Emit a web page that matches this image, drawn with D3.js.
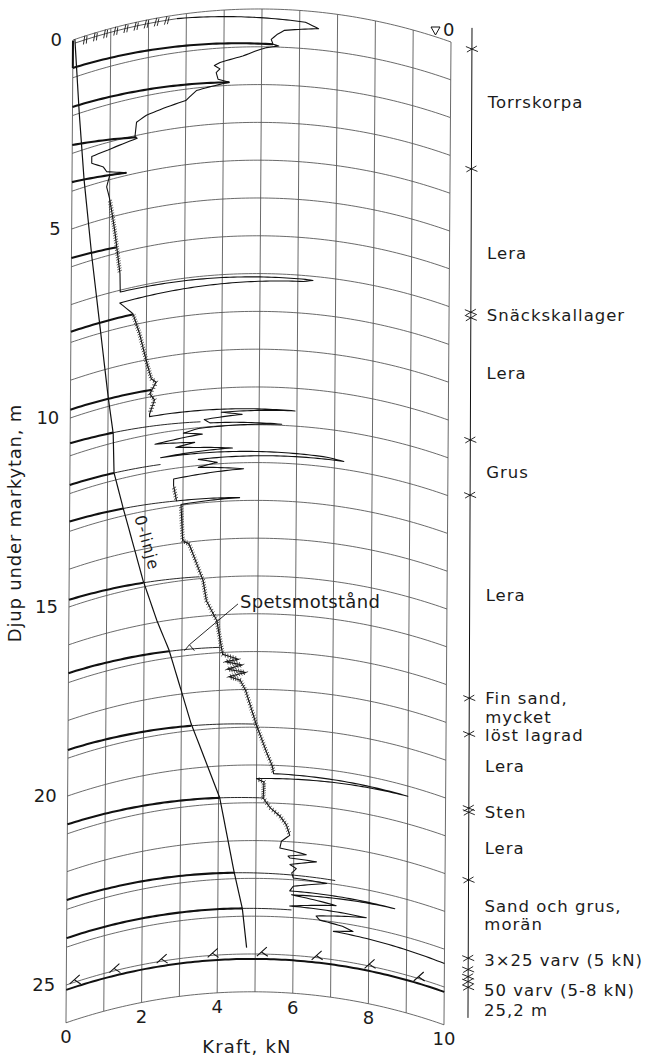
<!DOCTYPE html>
<html>
<head>
<meta charset="utf-8">
<script src="https://cdnjs.cloudflare.com/ajax/libs/d3/7.8.5/d3.min.js"></script>
<style>
body { margin: 0; background: #fff; }
svg text { font-family: "DejaVu Sans", sans-serif; fill: #1b1b1b; }
</style>
</head>
<body>
<svg id="chart" width="645" height="1060"></svg>
<script>
// values: [depth m, force kN]
const depthTicks = [0, 5, 10, 15, 20, 25];
const forceTicks = [0, 2, 4, 6, 8, 10];

const spets = [
  [0.10, 2.75], [0.30, 6.15], [0.44, 6.50], [0.55, 5.60], [0.67, 5.40], [0.80, 5.25],
  [0.93, 5.30], [0.97, 5.45], [1.02, 5.13], [1.09, 4.90], [1.24, 4.50], [1.38, 3.90],
  [1.45, 3.75], [1.55, 3.90], [1.64, 3.80], [1.82, 3.85], [1.92, 4.15], [2.01, 3.60],
  [2.07, 3.28], [2.30, 3.00], [2.40, 2.50], [2.52, 1.96], [2.65, 1.70], [3.03, 1.66],
  [3.08, 1.72], [3.20, 0.95], [3.25, 0.52], [3.43, 0.52], [3.62, 0.83], [3.77, 0.92],
  [3.93, 1.44], [3.88, 1.00], [4.17, 0.92], [4.50, 1.00], [4.92, 1.07], [5.37, 1.14],
  [5.84, 1.20], [6.56, 1.29], [7.05, 1.30], [7.10, 6.20], [7.11, 6.40], [7.16, 6.15],
  [7.34, 1.29], [7.70, 1.64], [8.27, 1.82], [9.01, 2.00], [9.53, 2.14], [9.64, 2.27],
  [9.92, 2.10], [10.10, 2.23], [10.45, 2.10], [10.52, 2.10],
  [10.60, 5.95], [10.64, 4.00], [10.72, 4.55], [10.80, 3.55], [10.90, 3.70], [10.97, 5.60],
  [11.02, 3.40], [11.10, 3.00], [11.18, 3.50], [11.28, 2.25], [11.38, 3.30], [11.45, 2.80],
  [11.52, 3.35], [11.60, 4.30], [11.66, 2.40], [11.74, 6.80], [11.79, 7.25], [11.84, 3.40],
  [11.96, 3.90], [12.05, 3.40], [12.16, 4.60], [12.28, 2.75], [12.45, 2.75],
  [12.87, 2.83], [12.92, 4.50], [12.98, 2.95], [13.94, 3.00], [14.05, 3.17], [15.06, 3.55],
  [15.60, 3.64], [16.15, 3.92], [16.60, 4.00], [17.05, 4.08], [17.20, 4.50], [17.25, 4.15],
  [17.35, 4.60], [17.45, 4.20], [17.55, 4.70], [17.65, 4.25], [17.75, 4.55], [18.04, 4.70],
  [18.92, 4.98], [19.63, 5.25], [20.03, 5.42], [20.22, 5.45], [20.27, 9.00], [20.36, 5.00],
  [20.45, 5.20], [20.87, 5.18], [21.13, 5.37], [21.34, 5.63], [21.56, 5.80], [21.83, 5.89],
  [22.00, 5.67], [22.18, 5.63], [22.24, 5.99], [22.31, 6.33], [22.38, 5.85], [22.43, 5.90],
  [22.47, 6.60], [22.60, 5.90], [22.70, 6.07], [22.82, 5.95], [22.95, 5.99], [23.01, 6.88],
  [23.17, 5.99], [23.30, 5.90], [23.33, 8.68], [23.40, 5.95], [23.56, 7.13], [23.70, 5.90],
  [23.74, 7.93], [23.90, 6.60], [24.00, 6.70], [24.08, 7.30], [24.17, 7.58], [24.25, 7.06],
  [24.38, 10.0]
];

const nollLinje = [
  [0.00, 0.05], [2.00, 0.18], [3.80, 0.32], [5.90, 0.54], [9.75, 1.00], [10.75, 1.14],
  [11.80, 1.17], [12.80, 1.42], [14.83, 1.96], [15.95, 2.33], [16.79, 2.66], [18.82, 3.26],
  [20.84, 4.03], [22.80, 4.42], [23.80, 4.65], [24.83, 4.77]
];

// pen returns: [depth at 0 kN, depth at end, bold up to kN, end kN]
const retur = [
  [0.74, 0.93, 5.30, 5.30], [1.77, 1.92, 4.15, 4.15], [2.78, 3.05, 1.70, 1.70],
  [3.76, 3.93, 1.44, 1.44], [5.77, 5.84, 1.20, 1.20], [7.72, 7.72, 1.64, 1.64],
  [9.78, 9.82, 2.15, 2.15], [10.67, 10.85, 1.14, 3.45], [11.77, 11.84, 1.17, 2.40],
  [12.74, 12.87, 1.42, 2.83], [14.81, 14.95, 1.96, 3.45], [16.75, 16.86, 2.66, 4.00],
  [18.78, 18.92, 3.26, 4.98], [20.75, 20.87, 4.03, 5.18], [22.75, 22.90, 4.45, 7.10],
  [23.76, 23.80, 4.65, 5.95]
];

const varvDepth = 25.13;
const varvMarks = [0.25, 1.3, 2.55, 3.9, 5.2, 6.65, 8.05, 9.35];
const noisyZones = [[4.2, 6.95], [7.4, 10.45], [12.45, 21.9]];

const lagerGrans = [0.24, 3.41, 7.20, 7.35, 10.58, 12.04, 17.41, 18.36, 20.32, 20.43,
  22.22, 24.29, 24.59, 24.78, 24.91, 25.06];
const lagerText = [
  [1.64, "Torrskorpa"], [5.64, "Lera"], [7.28, "Snäckskallager"], [8.81, "Lera"],
  [11.43, "Grus"], [14.68, "Lera"], [17.40, "Fin sand,"], [17.90, "mycket"],
  [18.40, "löst lagrad"], [19.20, "Lera"], [20.42, "Sten"], [21.38, "Lera"],
  [22.90, "Sand och grus,"], [23.40, "morän"], [24.34, "3×25 varv (5 kN)"],
  [25.14, "50 varv (5-8 kN)"], [25.66, "25,2 m"]
];

const svg = d3.select("#chart");

const x = d3.scaleLinear().domain([0, 10]).range([73, 451]);
const y = d3.scaleLinear().domain([0, 26]).range([40, 40 + 26 * 37.8]);

// pen arm swings on a circle: grid "horizontals" are arcs
const R = 574, half = (x(10) - x(0)) / 2;
const base = Math.sqrt(R * R - half * half);
const bump = f => Math.sqrt(R * R - Math.pow(x(f) - x(5), 2)) - base;
const P = (f, d) => [x(f) - d * 0.27, y(d) - bump(f) + f * 0.2];

// project [depth, force] polyline, resampled so arcs stay curved
function proj(pts, step = 0.1) {
  const out = [];
  pts.forEach((b, i) => {
    if (i === 0) { out.push(P(b[1], b[0])); return; }
    const a = pts[i - 1];
    const n = Math.max(1, Math.ceil(Math.max(Math.abs(b[1] - a[1]), Math.abs(b[0] - a[0])) / step));
    for (let k = 1; k <= n; k++) {
      const t = k / n;
      out.push(P(a[1] + (b[1] - a[1]) * t, a[0] + (b[0] - a[0]) * t));
    }
  });
  return out;
}
const line = d3.line();

const defs = svg.append("defs");
defs.append("marker").attr("id", "hair")
  .attr("viewBox", "-4 -4 8 8").attr("markerWidth", 8).attr("markerHeight", 8)
  .attr("markerUnits", "userSpaceOnUse").attr("orient", "auto")
  .append("path").attr("d", "M-0.8,-2.2 L0.8,2.2")
  .attr("stroke", "#222").attr("stroke-width", 0.7).attr("fill", "none");
defs.append("marker").attr("id", "hatch")
  .attr("viewBox", "-6 -6 12 12").attr("markerWidth", 12).attr("markerHeight", 12)
  .attr("markerUnits", "userSpaceOnUse").attr("orient", "auto")
  .append("path").attr("d", "M-3,4 L1,-4 M0,4 L3,-3")
  .attr("stroke", "#111").attr("stroke-width", 0.8).attr("fill", "none");

// grid
const grid = svg.append("g").attr("fill", "none").attr("stroke", "#444").attr("stroke-width", 0.8);
grid.selectAll(".arc").data(y.ticks(26)).join("path")
  .attr("d", d => line(proj([[d, 0], [d, 10]])));
grid.selectAll(".vert").data(x.ticks(10)).join("path")
  .attr("d", f => line(proj([[0, f], [26, f]], 1)));

// depth labels
svg.append("g").selectAll("text").data(depthTicks).join("text")
  .attr("x", d => P(0, d)[0] - 11).attr("y", d => P(0, d)[1])
  .attr("dy", "0.36em").attr("text-anchor", "end").attr("font-size", 18)
  .text(d => d);

// force labels follow the bottom arc
svg.append("g").selectAll("text").data(forceTicks).join("text")
  .attr("x", f => P(f, 26)[0]).attr("y", f => P(f, 26)[1] + 14)
  .attr("dy", "0.36em").attr("text-anchor", "middle").attr("font-size", 18)
  .text(f => f);

svg.append("text").attr("x", P(5, 26)[0] - 8).attr("y", 1053)
  .attr("text-anchor", "middle").attr("font-size", 18).attr("letter-spacing", 1.2)
  .text("Kraft, kN");

svg.append("text").attr("transform", "translate(21,523) rotate(-90)")
  .attr("text-anchor", "middle").attr("font-size", 18).attr("letter-spacing", 0.8)
  .text("Djup under markytan, m");

// pen returns to zero
const rg = svg.append("g").attr("fill", "none").attr("stroke", "#111");
retur.forEach(([d0, d1, fk, fe]) => {
  const dk = d0 + (d1 - d0) * fk / fe;
  rg.append("path").attr("stroke-width", 2.1).attr("d", line(proj([[d0, 0], [dk, fk]])));
  if (fe > fk) rg.append("path").attr("stroke-width", 0.9).attr("d", line(proj([[dk, fk], [d1, fe]])));
});
rg.append("path").attr("stroke-width", 2).attr("d", line(proj([[0.02, 0], [retur[0][0], 0]])));

// rotation arc (varv) with tick marks
rg.append("path").attr("stroke-width", 2).attr("d", line(proj([[varvDepth, 0], [varvDepth, 10]])));
rg.selectAll(".varv").data(varvMarks).join("path")
  .attr("stroke-width", 1.1).attr("transform", f => `translate(${P(f, varvDepth - 0.18)})`)
  .attr("d", "M-6,4 L4,-5 M-1,0 L5,4");

// zero line
svg.append("path").attr("fill", "none").attr("stroke", "#111").attr("stroke-width", 1.2)
  .attr("d", line(proj(nollLinje, 0.2)));
const zA = P(1.42, 12.8), zB = P(1.96, 14.83);
const zAng = Math.atan2(zB[1] - zA[1], zB[0] - zA[0]) * 180 / Math.PI;
svg.append("text")
  .attr("transform", `translate(${(zA[0] + zB[0]) / 2 + 4},${(zA[1] + zB[1]) / 2 + 1}) rotate(${zAng})`)
  .attr("text-anchor", "middle").attr("font-size", 16).attr("letter-spacing", 1).attr("dy", "-0.3em")
  .text("0-linje");

// surface hatch and point resistance trace
svg.append("path").attr("fill", "none").attr("stroke", "#111").attr("stroke-width", 0.7)
  .attr("marker-mid", "url(#hatch)").attr("d", line(proj([[0.1, 0.05], [0.1, 2.75]], 0.3)));
svg.append("path").attr("fill", "none").attr("stroke", "#111").attr("stroke-width", 1.1)
  .attr("stroke-linejoin", "round").attr("d", line(proj(spets)));

// pen jitter in the soft layers, only on the slowly varying parts
noisyZones.forEach(([a, b]) => {
  const seg = spets.filter(p => p[0] >= a && p[0] <= b);
  let run = [];
  const flush = () => {
    if (run.length > 1) svg.append("path").attr("fill", "none").attr("stroke", "none")
      .attr("marker-mid", "url(#hair)").attr("d", line(proj(run, 0.07)));
    run = [];
  };
  seg.forEach((p, i) => {
    if (i > 0 && Math.abs(p[1] - seg[i - 1][1]) > 0.5) { flush(); }
    run.push(p);
  });
  flush();
});

// annotation
const tip = P(3.2, 16.8);
svg.append("path").attr("fill", "none").attr("stroke", "#111").attr("stroke-width", 0.9)
  .attr("d", `M${tip[0] - 5},${tip[1] + 3} L${tip[0]},${tip[1] - 3} L${tip[0] + 5},${tip[1] + 3}`);
const ta = P(4.53, 15.84);
svg.append("path").attr("stroke", "#111").attr("stroke-width", 0.9)
  .attr("d", `M${ta[0] - 2},${ta[1] - 4} L${tip[0]},${tip[1] - 3}`);
svg.append("text").attr("x", ta[0]).attr("y", ta[1]).attr("font-size", 18)
  .attr("letter-spacing", 0.3).text("Spetsmotstånd");

// ground water mark
const c0 = P(10, 0);
svg.append("path").attr("fill", "none").attr("stroke", "#111").attr("stroke-width", 1)
  .attr("d", `M${c0[0] - 20},${c0[1] - 15} h9 l-4.5,8 z`);
svg.append("text").attr("x", c0[0] - 8).attr("y", c0[1] - 12).attr("dy", "0.36em")
  .attr("font-size", 18).text("0");

// soil column
const colX = d => 472 - (d + 0.3) * 0.154;
const col = svg.append("g").attr("stroke", "#111").attr("fill", "none");
col.append("line").attr("stroke-width", 1)
  .attr("x1", colX(-0.32)).attr("y1", y(-0.32)).attr("x2", colX(25.87)).attr("y2", y(25.87));
col.selectAll(".x").data(lagerGrans).join("path").attr("stroke-width", 0.9)
  .attr("transform", d => `translate(${colX(d)},${y(d)})`)
  .attr("d", "M-6,-2.5 L6,2.5 M-5,3 L5,-3");
svg.append("g").selectAll("text").data(lagerText).join("text")
  .attr("x", d => colX(d[0]) + 16).attr("y", d => y(d[0])).attr("dy", "0.36em")
  .attr("font-size", 16.5).attr("letter-spacing", 1).text(d => d[1]);
</script>
</body>
</html>
